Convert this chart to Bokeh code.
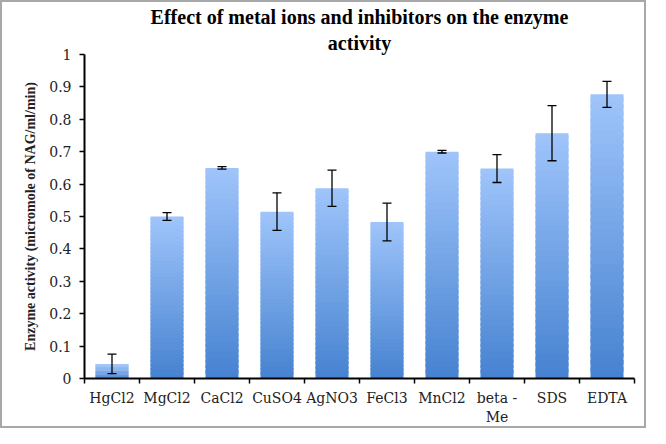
from bokeh.plotting import figure
from bokeh.models import ColumnDataSource, FixedTicker, Range1d, Whisker, TeeHead, Title
from bokeh.embed import file_html
from bokeh.resources import INLINE
import numpy as np

categories = ["HgCl2", "MgCl2", "CaCl2", "CuSO4", "AgNO3", "FeCl3", "MnCl2", "beta -\nMe", "SDS", "EDTA"]
activity = [0.045, 0.500, 0.650, 0.515, 0.587, 0.483, 0.700, 0.648, 0.757, 0.877]
errors = [0.030, 0.012, 0.004, 0.058, 0.056, 0.058, 0.004, 0.043, 0.085, 0.040]
y_ticks = [0, 0.1, 0.2, 0.3, 0.4, 0.5, 0.6, 0.7, 0.8, 0.9, 1]
title_lines = ["Effect of metal ions and inhibitors on the enzyme", "activity"]

n = len(categories)
centers = [i + 0.5 for i in range(n)]
bounds = list(range(n + 1))

p = figure(width=646, height=428, output_backend="svg", toolbar_location=None,
           x_range=Range1d(0, n), y_range=Range1d(0, 1),
           min_border_left=82, min_border_right=14, min_border_top=8, min_border_bottom=52)
p.styles = {"border": "2px solid #a8a8a8"}

def style_title(t):
    t.align = "center"
    t.text_font = "Liberation Serif"
    t.text_font_size = "20px"
    t.text_font_style = "bold"
    t.text_color = "black"
    t.standoff = 2

p.title.text = title_lines[0]
style_title(p.title)
t2 = Title(text=title_lines[1])
style_title(t2)
p.add_layout(t2, "above")

# gradient bars: slices from light (top) to dark (bottom)
top_c = np.array([0x9f, 0xc5, 0xfb])
bot_c = np.array([0x46, 0x82, 0xd0])
N = 40
xs, bs, ts, cs = [], [], [], []
for c, v in zip(centers, activity):
    for k in range(N):
        f0, f1 = k / N, min(1.0, (k + 1.6) / N)
        mid = (k + 0.5) / N
        col = bot_c + (top_c - bot_c) * mid
        xs.append(c)
        bs.append(v * f0)
        ts.append(v * f1)
        cs.append("#%02x%02x%02x" % tuple(int(round(x)) for x in col))
p.vbar(x=xs, bottom=bs, top=ts, width=0.6, fill_color=cs, line_color=None)

src = ColumnDataSource(dict(x=centers,
                            lower=[a - e for a, e in zip(activity, errors)],
                            upper=[a + e for a, e in zip(activity, errors)]))
w = Whisker(source=src, base="x", lower="lower", upper="upper", level="overlay",
            line_color="black", line_width=1.3,
            upper_head=TeeHead(size=9, line_color="black", line_width=1.3),
            lower_head=TeeHead(size=9, line_color="black", line_width=1.3))
p.add_layout(w)

p.xgrid.grid_line_color = None
p.ygrid.grid_line_color = None
p.outline_line_color = None

xa = p.xaxis[0]
xa.ticker = FixedTicker(ticks=centers, minor_ticks=bounds)
xa.major_label_overrides = {c: lab for c, lab in zip(centers, categories)}
xa.major_tick_line_color = None
xa.minor_tick_line_color = "black"
xa.minor_tick_line_width = 1.5
xa.minor_tick_out = 5
xa.minor_tick_in = 0
xa.axis_line_color = "black"
xa.axis_line_width = 2
xa.major_label_text_font = "DejaVu Serif"
xa.major_label_text_font_size = "14px"
xa.major_label_text_color = "#222222"
xa.major_label_standoff = 5

ya = p.yaxis[0]
ya.ticker = FixedTicker(ticks=y_ticks)
ya.major_label_overrides = {t: ("%g" % t) for t in y_ticks}
ya.minor_tick_line_color = None
ya.major_tick_line_color = "black"
ya.major_tick_line_width = 1.5
ya.major_tick_out = 5
ya.major_tick_in = 0
ya.axis_line_color = "black"
ya.axis_line_width = 2
ya.major_label_text_font = "DejaVu Serif"
ya.major_label_text_font_size = "14px"
ya.major_label_text_color = "#222222"
ya.major_label_standoff = 8
ya.axis_label = "Enzyme activity (micromole of NAG/ml/min)"
ya.axis_label_text_font = "Liberation Serif"
ya.axis_label_text_font_size = "14px"
ya.axis_label_text_font_style = "bold"
ya.axis_label_text_color = "#222222"
ya.axis_label_standoff = 8

open("out.html", "w").write(file_html(p, INLINE))
